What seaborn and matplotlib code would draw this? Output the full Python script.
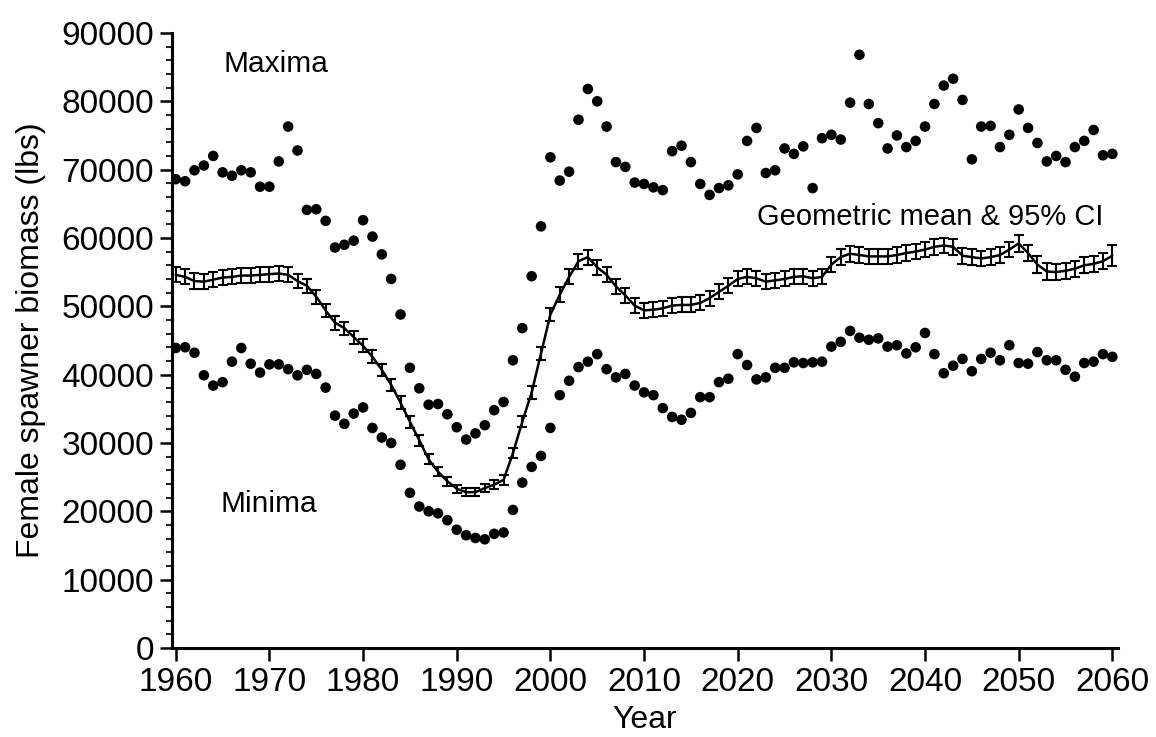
import matplotlib.pyplot as plt
import seaborn as sns
import pandas as pd

# 年份
years = list(range(1960, 2061))

# 最大值 (每年)
maxima = [68600, 68300, 69900, 70600, 72000, 69600, 69100, 69900, 69600, 67500,
          67500, 71200, 76300, 72800, 64100, 64200, 62500, 58600, 59000, 59600,
          62600, 60200, 57600, 54000, 48800, 41000, 38000, 35600, 35700, 34200,
          32300, 30500, 31400, 32600, 34800, 36000, 42100, 46800, 54400, 61700,
          71800, 68400, 69700, 77300, 81800, 80000, 76300, 71100, 70400, 68100,
          67900, 67400, 67000, 72700, 73500, 71100, 67900, 66300, 67300, 67700,
          69300, 74200, 76100, 69500, 69900, 73100, 72300, 73400, 67300, 74600,
          75100, 74400, 79800, 86800, 79600, 76800, 73100, 75000, 73300, 74200,
          76300, 79600, 82300, 83300, 80200, 71500, 76300, 76400, 73300, 75100,
          78800, 76100, 73900, 71200, 72000, 71100, 73300, 74200, 75800, 72100,
          72300]

# 最小值 (每年)
minima = [43900, 44000, 43200, 39900, 38400, 38900, 41900, 43900, 41600, 40300,
          41500, 41500, 40800, 39900, 40700, 40100, 38100, 34000, 32800, 34300,
          35200, 32200, 30800, 30000, 26800, 22700, 20700, 20000, 19700, 18700,
          17300, 16500, 16100, 15900, 16700, 16900, 20200, 24200, 26500, 28100,
          32200, 37000, 39100, 41100, 41900, 43000, 40800, 39600, 40100, 38400,
          37400, 37000, 35100, 33800, 33400, 34400, 36700, 36700, 38900, 39400,
          43000, 41400, 39300, 39600, 41000, 41000, 41800, 41700, 41800, 41900,
          44100, 44800, 46400, 45400, 45100, 45300, 44100, 44300, 43100, 44000,
          46100, 43000, 40200, 41300, 42300, 40500, 42300, 43200, 42100, 44300,
          41700, 41600, 43300, 42100, 42100, 40700, 39700, 41700, 41900, 43000,
          42600]

# 几何平均值
geo_mean = [54600, 54300, 53700, 53600, 53900, 54200, 54300, 54500, 54500, 54600,
            54700, 54800, 54600, 53700, 53000, 51400, 49400, 47600, 46800, 45500,
            44200, 42600, 40700, 38500, 35900, 33100, 30400, 27600, 25800, 24400,
            23300, 22800, 22800, 23400, 23900, 24600, 28500, 33100, 37400, 43100,
            48800, 51700, 54300, 56600, 57200, 55700, 54600, 52900, 51600, 50100,
            49400, 49500, 49700, 50100, 50200, 50200, 50500, 51200, 52100, 53000,
            54000, 54300, 54100, 53600, 53800, 54000, 54300, 54400, 54100, 54300,
            56100, 57200, 57700, 57500, 57300, 57300, 57300, 57500, 57800, 58000,
            58300, 58700, 58900, 58700, 57400, 57200, 57000, 57200, 57500, 58300,
            59200, 57800, 56100, 55100, 55000, 55200, 55500, 56000, 56200, 56600,
            57400]

# 95% 置信区间半宽
ci_half = [1100, 1100, 1100, 1100, 1100, 1100, 1100, 1100, 1100, 1100,
           1100, 1100, 1100, 1000, 1000, 1000, 1000, 1000, 950, 950,
           950, 950, 900, 900, 900, 850, 800, 750, 700, 650,
           600, 600, 600, 600, 650, 700, 750, 800, 900, 950,
           1000, 1050, 1100, 1100, 1100, 1100, 1100, 1100, 1100, 1100,
           1100, 1100, 1100, 1100, 1100, 1100, 1100, 1100, 1100, 1100,
           1100, 1100, 1100, 1100, 1100, 1100, 1100, 1100, 1100, 1100,
           1150, 1150, 1150, 1150, 1150, 1150, 1150, 1150, 1150, 1150,
           1150, 1150, 1150, 1150, 1150, 1150, 1150, 1150, 1150, 1150,
           1200, 1200, 1200, 1200, 1200, 1200, 1200, 1200, 1200, 1200,
           1500]

df = pd.DataFrame({'Year': years, 'Maxima': maxima, 'Minima': minima,
                   'Mean': geo_mean, 'CI': ci_half})

sns.set_style('ticks')
plt.rcParams['font.family'] = ['Liberation Sans', 'DejaVu Sans']
plt.rcParams['text.color'] = 'black'
plt.rcParams['axes.labelcolor'] = 'black'

fig = plt.figure(figsize=(11.56, 7.37), dpi=100)
ax = fig.add_axes([0.1488, 0.1208, 0.8183, 0.8345])

# 最大值和最小值散点
sns.scatterplot(x='Year', y='Maxima', data=df, ax=ax, color='black', s=58,
                edgecolor='none', zorder=3)
sns.scatterplot(x='Year', y='Minima', data=df, ax=ax, color='black', s=58,
                edgecolor='none', zorder=3)

# 几何平均值及置信区间
sns.lineplot(x='Year', y='Mean', data=df, ax=ax, color='black', linewidth=1.8)
ax.errorbar(df['Year'], df['Mean'], yerr=df['CI'], fmt='none', ecolor='black',
            elinewidth=1.5, capsize=3.9, capthick=1.5)

ax.text(1965.1, 84300, 'Maxima', fontsize=21.5, ha='left', va='baseline')
ax.text(1964.75, 19900, 'Minima', fontsize=21.5, ha='left', va='baseline')
ax.text(2022.05, 61900, 'Geometric mean & 95% CI', fontsize=21, ha='left', va='baseline')

ax.set_xlim(1959.6, 2060.6)
ax.set_ylim(0, 90000)
ax.set_xticks(range(1960, 2061, 10))
ax.set_yticks(range(0, 90001, 10000))
ax.set_yticks(range(0, 90001, 2000), minor=True)
ax.tick_params(axis='both', which='major', direction='out', length=9, width=1.8,
               labelsize=24, colors='black')
ax.tick_params(axis='x', pad=5)
ax.tick_params(axis='y', pad=4)
ax.tick_params(axis='y', which='minor', direction='out', length=4, width=1.5)

for side in ['top', 'right']:
    ax.spines[side].set_visible(False)
for side in ['left', 'bottom']:
    ax.spines[side].set_linewidth(2.2)
    ax.spines[side].set_color('black')

ax.set_xlabel('Year', fontsize=23, labelpad=5)
ax.set_ylabel('Female spawner biomass (lbs)', fontsize=23, labelpad=11)

plt.savefig('out.png', dpi=100)
